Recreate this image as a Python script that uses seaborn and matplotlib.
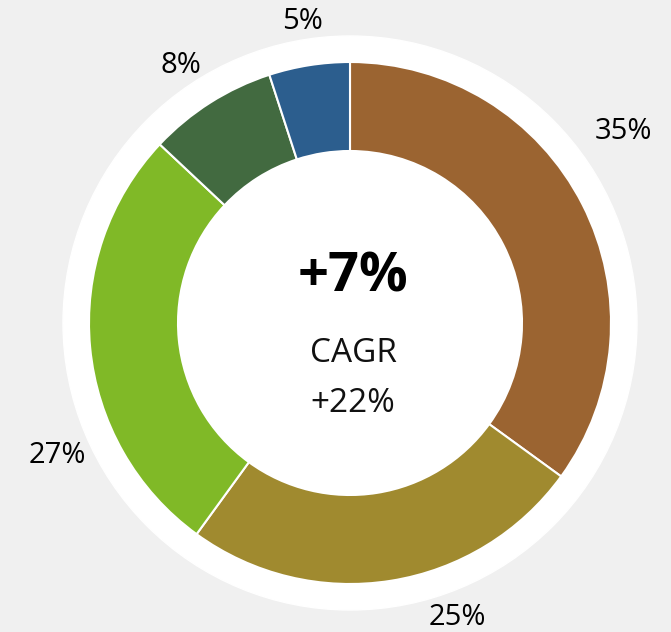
import numpy as np
import matplotlib
matplotlib.use("Agg")
import matplotlib.pyplot as plt
import seaborn as sns

# Data
shares = [35, 25, 27, 8, 5]
labels = ["35%", "25%", "27%", "8%", "5%"]
colors = ["#9b6431", "#a08a2f", "#80b927", "#426a40", "#2c5e8e"]
center_big = "+7%"
center_mid = "CAGR"
center_low = "+22%"

# label placement tweaks (degrees shift, distance as fraction of radius)
label_shift = [8, 11, 19, 1, 0]
label_dist = [1.28, 1.20, 1.23, 1.18, 1.17]

sns.set_style("white")
plt.rcParams["font.family"] = ["Open Sans", "DejaVu Sans"]

W, H = 671, 632
fig = plt.figure(figsize=(W / 100, H / 100), dpi=100)
fig.patch.set_facecolor("#f0f0f0")
ax = fig.add_axes([0, 0, 1, 1])
ax.set_facecolor("#f0f0f0")

cx, cy = 350, H - 323
R = 261
ring = 89

# white backing disc
ax.add_patch(plt.Circle((cx, cy), 287, color="white", zorder=0))

wedges, _ = ax.pie(shares, colors=colors, startangle=90, counterclock=False,
                   center=(cx, cy), radius=R, frame=True,
                   wedgeprops=dict(width=ring, edgecolor="white", linewidth=1.5))

for w, lab, sh, d in zip(wedges, labels, label_shift, label_dist):
    mid = np.deg2rad((w.theta1 + w.theta2) / 2 + sh)
    ax.text(cx + d * R * np.cos(mid), cy + d * R * np.sin(mid), lab,
            ha="center", va="center", fontsize=21, color="black")

ax.text(cx + 3, H - 278, center_big, ha="center", va="center",
        fontsize=39, fontweight="bold", color="black")
ax.text(cx + 3, H - 354, center_mid, ha="center", va="center",
        fontsize=24, color="#111111")
ax.text(cx + 3, H - 403, center_low, ha="center", va="center",
        fontsize=24, color="#111111")

ax.set_xlim(0, W)
ax.set_ylim(0, H)
ax.set_aspect("equal")
ax.axis("off")

fig.savefig("out.png", dpi=100, facecolor=fig.get_facecolor())
